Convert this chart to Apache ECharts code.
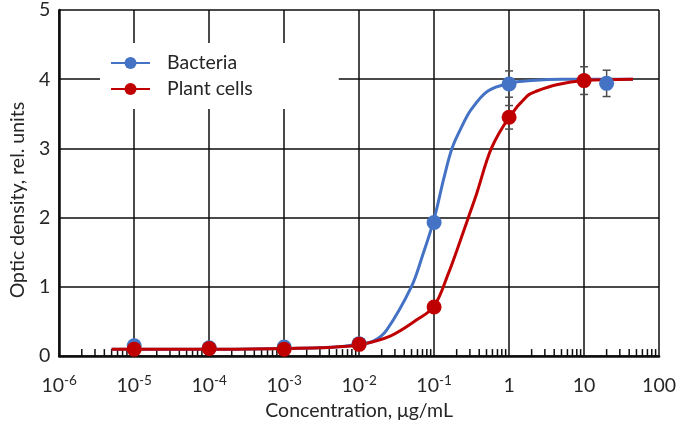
<!DOCTYPE html>
<html><head><meta charset="utf-8">
<script src="https://cdn.jsdelivr.net/npm/echarts@6/dist/echarts.min.js"></script>
<style>html,body{margin:0;padding:0;background:#fff}#c{width:679px;height:426px}</style>
</head><body><div id="c"></div>
<script>
const seriesNames = ['Bacteria', 'Plant cells'];
const seriesColors = ['#4472C4', '#C00000'];
// measured points [concentration µg/mL, optic density]
const bacteriaPoints = [[1e-5,0.15],[1e-4,0.12],[1e-3,0.13],[1e-2,0.18],[0.1,1.93],[1,3.93],[20,3.94]];
const plantPoints = [[1e-5,0.10],[1e-4,0.11],[1e-3,0.10],[1e-2,0.17],[0.1,0.71],[1,3.45],[10,3.98]];
// error bars [x, y, ±err]
const bacteriaErrors = [[1,3.93,0.19],[20,3.94,0.19]];
const plantErrors = [[1,3.45,0.17],[10,3.98,0.20]];
// fitted curves
const bacteriaCurve = [[5e-6,0.10],[1e-5,0.10],[1e-4,0.10],[1e-3,0.11],[3e-3,0.12],[6e-3,0.14],[0.01,0.17],[0.0157,0.22],[0.0234,0.38],[0.0497,1.0],[0.07,1.45],[0.1,1.98],[0.135,2.57],[0.173,3.0],[0.23,3.3],[0.316,3.57],[0.522,3.83],[1,3.94],[2,3.98],[5,4.0],[45,4.0]];
const plantCurve = [[5e-6,0.10],[1e-5,0.10],[1e-4,0.10],[1e-3,0.11],[3e-3,0.12],[6e-3,0.14],[0.01,0.16],[0.026,0.29],[0.058,0.52],[0.1,0.72],[0.157,1.21],[0.2,1.52],[0.286,2.0],[0.37,2.35],[0.58,3.0],[1,3.45],[1.75,3.76],[2.35,3.83],[4.3,3.92],[10,3.98],[45,4.0]];
// x tick labels (base, superscript) for decades 10^-6 … 10^2
const xTickLabels = [['10','-6'],['10','-5'],['10','-4'],['10','-3'],['10','-2'],['10','-1'],['1',''],['10',''],['100','']];
const xMin = 1e-6, xMax = 100;
const yMin = 0, yMax = 5, yInterval = 1;
// minor tick positions: factors 2..9 in each decade
const minorFactors = [2,3,4,5,6,7,8,9];
const minorDecades = [-6,-5,-4,-3,-2,-1,0,1];
const minorTicks = [];
minorDecades.forEach(d => minorFactors.forEach(f => minorTicks.push([f * Math.pow(10, d)])));

const FONT = 'Lato';
const TXT = '#262626';
const GRID = '#0d0d0d';

const chart = echarts.init(document.getElementById('c'), null, {renderer: 'canvas'});

function errRender(params, api) {
  const x = api.value(0), y = api.value(1), e = api.value(2);
  const top = api.coord([x, y + e]);
  const bot = api.coord([x, y - e]);
  const w = 4;
  const st = {stroke: '#4d4d4d', lineWidth: 1.5};
  return {type: 'group', children: [
    {type: 'line', shape: {x1: top[0], y1: top[1], x2: bot[0], y2: bot[1]}, style: st},
    {type: 'line', shape: {x1: top[0]-w, y1: top[1], x2: top[0]+w, y2: top[1]}, style: st},
    {type: 'line', shape: {x1: bot[0]-w, y1: bot[1], x2: bot[0]+w, y2: bot[1]}, style: st}
  ]};
}

chart.setOption({
  animation: false,
  backgroundColor: '#fff',
  grid: {left: 52, right: 14, top: 10, bottom: 66},
  legend: {
    data: seriesNames,
    orient: 'vertical',
    left: 100, top: 43,
    padding: [9, 86, 9, 10],
    itemGap: 4,
    itemWidth: 39, itemHeight: 15,
    backgroundColor: '#fff',
    textStyle: {fontFamily: FONT, fontSize: 19.5, color: TXT, lineHeight: 22, padding: [0,0,0,12]}
  },
  xAxis: {
    type: 'log', logBase: 10, min: xMin, max: xMax,
    name: 'Concentration, μg/mL', nameLocation: 'middle', nameGap: 38,
    nameTextStyle: {fontFamily: FONT, fontSize: 19.5, color: TXT},
    axisLine: {show: true, onZero: false, lineStyle: {color: GRID, width: 2.5}},
    axisTick: {show: false},
    splitLine: {show: true, lineStyle: {color: GRID, width: 1.5}},
    axisLabel: {
      margin: 18,
      formatter: v => {
        const e = Math.round(Math.log10(v));
        const lab = xTickLabels[e + 6];
        return lab[1] ? `{b|${lab[0]}}{s|${lab[1]}}` : `{b|${lab[0]}}`;
      },
      rich: {
        b: {fontFamily: FONT, fontSize: 19.5, color: TXT, lineHeight: 24},
        s: {fontFamily: FONT, fontSize: 13.5, color: TXT, lineHeight: 15, verticalAlign: 'top'}
      }
    }
  },
  yAxis: {
    type: 'value', min: yMin, max: yMax, interval: yInterval,
    name: 'Optic density, rel. units', nameLocation: 'middle', nameGap: 30,
    nameTextStyle: {fontFamily: FONT, fontSize: 19.5, color: TXT, padding: [0, 34, 0, 0]},
    axisLine: {show: true, lineStyle: {color: GRID, width: 2.5}},
    axisTick: {show: false},
    splitLine: {show: true, lineStyle: {color: GRID, width: 1.5}},
    axisLabel: {fontFamily: FONT, fontSize: 19.5, color: TXT, margin: 9}
  },
  series: [
    {name: seriesNames[0], type: 'line', data: bacteriaCurve, smooth: 0.35, symbol: 'none',
     lineStyle: {color: seriesColors[0], width: 3}, itemStyle: {color: seriesColors[0]}, z: 3},
    {name: seriesNames[1], type: 'line', data: plantCurve, smooth: 0.35, symbol: 'none',
     lineStyle: {color: seriesColors[1], width: 3}, itemStyle: {color: seriesColors[1]}, z: 3},
    {name: 'minor', type: 'custom', data: minorTicks, z: 2, silent: true,
     renderItem: (p, api) => {
       const c = api.coord([api.value(0), yMin]);
       return {type: 'line', shape: {x1: c[0], y1: c[1], x2: c[0], y2: c[1] - 7}, style: {stroke: GRID, lineWidth: 1.5}};
     }},
    {name: 'errB', type: 'custom', data: bacteriaErrors, renderItem: errRender, z: 4},
    {name: 'errP', type: 'custom', data: plantErrors, renderItem: errRender, z: 4},
    {name: seriesNames[0], type: 'scatter', data: bacteriaPoints, symbol: 'circle', symbolSize: 15,
     itemStyle: {color: seriesColors[0], opacity: 1}, z: 5},
    {name: seriesNames[1], type: 'scatter', data: plantPoints, symbol: 'circle', symbolSize: 15,
     itemStyle: {color: seriesColors[1], opacity: 1}, z: 5}
  ]
});
</script></body></html>
